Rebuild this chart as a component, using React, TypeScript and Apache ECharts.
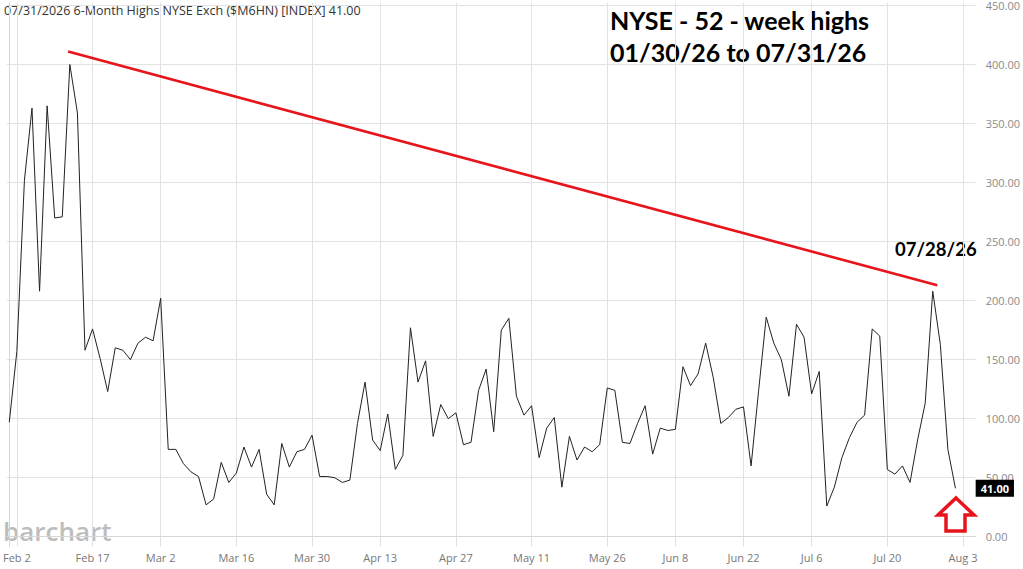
import React, { useEffect, useRef } from "react";
import * as echarts from "echarts";

// Daily values of 6-Month Highs NYSE ($M6HN), trading days 01/30/26 .. 07/31/26
const values = [
  97, 157, 302, 363, 208, 365, 270, 271, 400, 359,
  158, 176, 151, 123, 160, 158, 150, 164, 169, 166,
  202, 74, 74, 62, 55, 51, 27, 32, 63, 46,
  54, 76, 59, 74, 36, 27, 79, 59, 72, 74,
  86, 51, 51, 50, 46, 48, 96, 131, 82, 73,
  104, 57, 69, 177, 131, 149, 85, 112, 100, 105,
  78, 80, 124, 142, 89, 175, 185, 119, 103, 111,
  67, 92, 101, 42, 85, 65, 76, 72, 78, 126,
  124, 80, 79, 96, 111, 70, 92, 90, 91, 144,
  128, 138, 164, 135, 96, 101, 108, 110, 60, 124,
  186, 164, 150, 119, 180, 169, 121, 140, 26, 42,
  67, 84, 97, 103, 176, 170, 57, 53, 60, 46,
  82, 113, 208, 163, 74, 41,
];

// x-axis tick positions (trading-day index) and their labels
const tickIndex = [1, 11, 20, 30, 40, 49, 59, 69, 79, 88, 97, 106, 116, 126];
const tickLabels = [
  "Feb 2", "Feb 17", "Mar 2", "Mar 16", "Mar 30", "Apr 13", "Apr 27",
  "May 11", "May 26", "Jun 8", "Jun 22", "Jul 6", "Jul 20", "Aug 3",
];
const yTicks = [0, 50, 100, 150, 200, 250, 300, 350, 400, 450];

// red trend line (trading-day index, value)
const trendX = [7.77, 122.6];
const trendY = [411, 213];

const lastValue = 41;

export default function App() {
  const ref = useRef<HTMLDivElement>(null);

  useEffect(() => {
    if (!ref.current) return;
    const chart = echarts.init(ref.current, null, { renderer: "svg" });
    const gridColor = "#e2e2e2";
    const option: any = {
      animation: false,
      backgroundColor: "#ffffff",
      grid: { left: 0, right: 46.3, top: 0, bottom: 22.6, containLabel: false },
      xAxis: {
        type: "value",
        min: -0.31,
        max: 127.67,
        axisLine: { show: true, lineStyle: { color: "#d6d6d6", width: 1 } },
        axisTick: { show: false, customValues: tickIndex },
        axisLabel: {
          customValues: tickIndex,
          formatter: (v: number) => {
            const k = tickIndex.indexOf(Math.round(v));
            return k >= 0 ? tickLabels[k] : "";
          },
          color: "#777777",
          fontSize: 11,
          fontFamily: "Open Sans",
          margin: 6,
        },
        splitLine: { show: true, lineStyle: { color: gridColor, width: 1 } },
      },
      yAxis: {
        type: "value",
        position: "right",
        min: -8.18,
        max: 452.5,
        axisLine: { show: true, lineStyle: { color: "#d6d6d6", width: 1 } },
        axisTick: { show: false, customValues: yTicks },
        axisLabel: {
          customValues: yTicks,
          formatter: (v: number) => v.toFixed(2),
          color: "#8a8a8a",
          fontSize: 11,
          fontFamily: "Open Sans",
          margin: 10,
        },
        splitLine: { show: true, lineStyle: { color: gridColor, width: 1 } },
      },
      series: [
        {
          type: "line",
          data: values.map((v, i) => [i, v]),
          showSymbol: false,
          symbol: "none",
          lineStyle: { color: "#222222", width: 1 },
          z: 3,
          markLine: {
            silent: true,
            symbol: "none",
            lineStyle: { color: "transparent", width: 0 },
            data: [{ yAxis: lastValue }],
            label: {
              show: true,
              position: "end",
              distance: 0,
              formatter: lastValue.toFixed(2),
              backgroundColor: "#000000",
              color: "#ffffff",
              fontWeight: "bold",
              fontSize: 11,
              fontFamily: "Open Sans",
              padding: [3, 5, 3, 5],
            },
          },
        },
        {
          type: "line",
          data: trendX.map((x, i) => [x, trendY[i]]),
          showSymbol: false,
          symbol: "none",
          lineStyle: { color: "#e8141c", width: 2.6 },
          z: 4,
        },
      ],
      graphic: [
        {
          type: "text",
          x: 4,
          y: 10,
          style: {
            text: "07/31/2026 6-Month Highs NYSE Exch ($M6HN) [INDEX] 41.00",
            font: "12.5px 'Open Sans'",
            fill: "#333333",
            verticalAlign: "middle",
          },
        },
        {
          type: "text",
          x: 610,
          y: 20,
          style: {
            text: "NYSE - 52 - week highs",
            font: "bold 25px Lato",
            fill: "#000000",
            verticalAlign: "middle",
          },
        },
        {
          type: "text",
          x: 610,
          y: 52,
          style: {
            text: "01/30/26 to 07/31/26",
            font: "bold 25px Lato",
            fill: "#000000",
            verticalAlign: "middle",
          },
        },
        {
          type: "text",
          x: 895,
          y: 249,
          style: {
            text: "07/28/26",
            font: "bold 18.5px Lato",
            fill: "#000000",
            verticalAlign: "middle",
          },
        },
        {
          type: "text",
          x: 3,
          y: 531,
          style: {
            text: "barchart",
            font: "600 26px 'Open Sans'",
            fill: "#bdbdbd",
            verticalAlign: "middle",
          },
        },
        {
          type: "polygon",
          shape: {
            points: [
              [956, 498],
              [974, 515],
              [965, 515],
              [965, 531],
              [946, 531],
              [946, 515],
              [938, 515],
            ],
          },
          style: { fill: "#ffffff", stroke: "#e8141c", lineWidth: 3.5, lineJoin: "miter" },
          z: 10,
        },
      ],
    };
    chart.setOption(option);
    return () => chart.dispose();
  }, []);

  return (
    <div
      ref={ref}
      style={{ position: "fixed", left: 0, top: 0, width: 1023, height: 569, background: "#fff" }}
    />
  );
}
